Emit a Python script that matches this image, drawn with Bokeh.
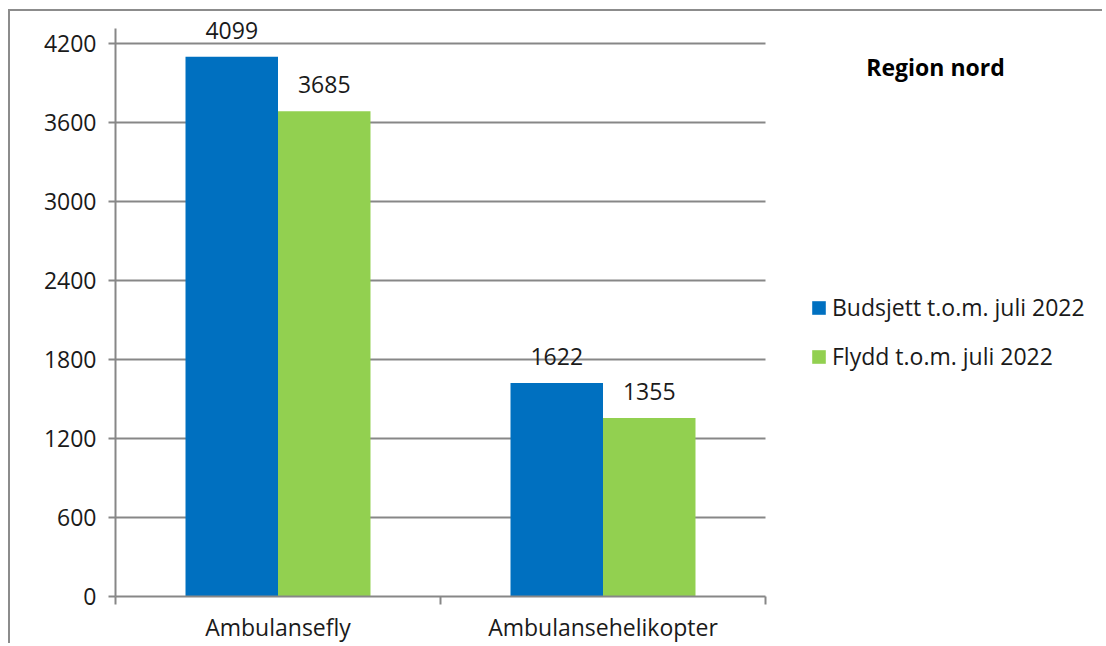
from bokeh.plotting import figure
from bokeh.models import ColumnDataSource, FixedTicker, LabelSet, Label, Legend, LegendItem
from bokeh.core.properties import value
from bokeh.transform import dodge
from bokeh.embed import file_html
from bokeh.resources import INLINE

categories = ["Ambulansefly", "Ambulansehelikopter"]
series_names = ["Budsjett t.o.m. juli 2022", "Flydd t.o.m. juli 2022"]
budsjett = [4099, 1622]
flydd = [3685, 1355]
y_ticks = [0, 600, 1200, 1800, 2400, 3000, 3600, 4200]
y_axis_top = 4314
title_text = "Region nord"

colors = ["#0070C0", "#92D050"]
FONT = "Open Sans"
GRID = "#878787"
TXT = "#1a1a1a"
FS = "23px"

n = len(categories)
centers = [i + 0.5 for i in range(n)]
bounds = list(range(n + 1))

# layout (pixels inside the figure canvas)
W, H = 1094, 634
FL, FR_AX, FR = 105, 755, 1092      # frame left, category-area right, frame right
FT, Y0, Y4200 = 2, 586, 32          # frame top, y of 0, y of 4200
x_end = n * (FR - FL) / (FR_AX - FL)
y_end = y_ticks[-1] * (Y0 - FT) / (Y0 - Y4200)

src = ColumnDataSource(dict(
    x=centers, cat=categories,
    b=budsjett, f=flydd,
    b_txt=[str(v) for v in budsjett], f_txt=[str(v) for v in flydd],
))

p = figure(width=W, height=H, output_backend="svg", toolbar_location=None,
           x_range=(0, x_end), y_range=(0, y_end),
           min_border_left=FL, min_border_right=W - FR, min_border_top=FT,
           min_border_bottom=H - Y0)
p.styles = {"margin-left": "8px", "margin-top": "9px",
            "border-left": "2px solid #8c8c8c", "border-top": "2px solid #8c8c8c"}
p.outline_line_color = None
p.background_fill_color = "white"
p.border_fill_color = "white"

bw = 0.2846
off = bw / 2
r1 = p.vbar(x=dodge("x", -off), top="b", width=bw, source=src, fill_color=colors[0], line_color=None)
r2 = p.vbar(x=dodge("x", off), top="f", width=bw, source=src, fill_color=colors[1], line_color=None)

for col, txt, dx in (("b", "b_txt", -off), ("f", "f_txt", off)):
    ls = LabelSet(x=dodge("x", dx), y=col, text=txt, source=src, text_align="center",
                  text_baseline="alphabetic", y_offset=18, text_font=value(FONT),
                  text_font_size=value(FS), text_color=TXT)
    p.add_layout(ls)

# y axis
ya = p.yaxis[0]
ya.ticker = FixedTicker(ticks=y_ticks)
ya.bounds = (0, y_axis_top)
ya.axis_line_color = GRID
ya.axis_line_width = 2
ya.major_tick_line_color = GRID
ya.major_tick_line_width = 2
ya.major_tick_out = 7
ya.major_tick_in = 0
ya.minor_tick_line_color = None
ya.major_label_text_font = FONT
ya.major_label_text_font_size = FS
ya.major_label_text_color = TXT
ya.major_label_standoff = 12

# x axis
xa = p.xaxis[0]
xa.ticker = FixedTicker(ticks=centers, minor_ticks=bounds)
xa.bounds = (0, n)
xa.major_label_overrides = {c: name for c, name in zip(centers, categories)}
xa.axis_line_color = GRID
xa.axis_line_width = 2
xa.major_tick_line_color = None
xa.major_tick_out = 0
xa.major_tick_in = 0
xa.minor_tick_line_color = GRID
xa.minor_tick_line_width = 2
xa.minor_tick_out = 8
xa.minor_tick_in = 0
xa.major_label_text_font = FONT
xa.major_label_text_font_size = FS
xa.major_label_text_color = TXT
xa.major_label_standoff = 6

p.xgrid.visible = False
p.ygrid.ticker = FixedTicker(ticks=y_ticks)
p.ygrid.cross_bounds = (0, n)
p.ygrid.grid_line_color = GRID
p.ygrid.grid_line_width = 2

legend = Legend(items=[LegendItem(label=series_names[0], renderers=[r1]),
                       LegendItem(label=series_names[1], renderers=[r2])],
                location=(695, 224))
legend.padding = 0
legend.margin = 0
legend.spacing = 17
legend.glyph_width = 17
legend.glyph_height = 17
legend.label_standoff = 5
legend.label_text_font = FONT
legend.label_text_font_size = FS
legend.label_text_color = TXT
legend.border_line_color = None
legend.background_fill_alpha = 0
p.add_layout(legend)

title = Label(x=820, y=530, x_units="screen", y_units="screen", text=title_text,
              text_align="center", text_baseline="middle", text_font=FONT,
              text_font_size=FS, text_font_style="bold", text_color="black")
p.add_layout(title)

open("out.html", "w").write(file_html(p, INLINE))
